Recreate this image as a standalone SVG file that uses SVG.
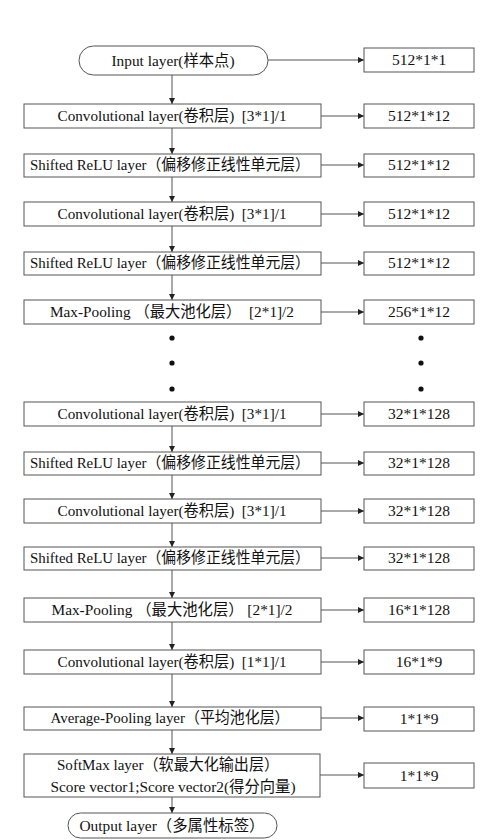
<svg xmlns="http://www.w3.org/2000/svg" width="502" height="840" viewBox="0 0 502 840">
<defs>
<marker id="ah" markerWidth="7" markerHeight="6" refX="6" refY="3" orient="auto" markerUnits="userSpaceOnUse">
<path d="M0,0 L6,3 L0,6 z" fill="#222"/>
</marker>
<style>
.box{fill:#fff;stroke:#555;stroke-width:1}
.t{font-family:"Liberation Serif","Noto Sans CJK SC",serif;font-size:15.5px;fill:#111;text-anchor:middle}
.c{stroke:#555;stroke-width:1;fill:none;marker-end:url(#ah)}
.dot{fill:#111}
</style>
</defs>
<rect width="502" height="840" fill="#fff"/>

<g id="connectors">
<line class="c" x1="172" y1="75" x2="172" y2="104"/>
<line class="c" x1="172" y1="128" x2="172" y2="154"/>
<line class="c" x1="172" y1="177" x2="172" y2="202"/>
<line class="c" x1="172" y1="226" x2="172" y2="252"/>
<line class="c" x1="172" y1="275" x2="172" y2="300"/>
<line class="c" x1="172" y1="426" x2="172" y2="452"/>
<line class="c" x1="172" y1="475" x2="172" y2="499"/>
<line class="c" x1="172" y1="523" x2="172" y2="547"/>
<line class="c" x1="172" y1="570" x2="172" y2="598"/>
<line class="c" x1="172" y1="622" x2="172" y2="650"/>
<line class="c" x1="172" y1="674" x2="172" y2="707"/>
<line class="c" x1="172" y1="730" x2="172" y2="754"/>
<line class="c" x1="172" y1="797" x2="172" y2="813"/>

<line class="c" x1="268" y1="60" x2="364" y2="60"/>
<line class="c" x1="321" y1="116" x2="364" y2="116"/>
<line class="c" x1="321" y1="165" x2="364" y2="165"/>
<line class="c" x1="321" y1="214" x2="364" y2="214"/>
<line class="c" x1="321" y1="263" x2="364" y2="263"/>
<line class="c" x1="321" y1="312" x2="364" y2="312"/>
<line class="c" x1="321" y1="414" x2="364" y2="414"/>
<line class="c" x1="321" y1="463" x2="364" y2="463"/>
<line class="c" x1="321" y1="511" x2="364" y2="511"/>
<line class="c" x1="321" y1="558" x2="364" y2="558"/>
<line class="c" x1="321" y1="610" x2="364" y2="610"/>
<line class="c" x1="321" y1="662" x2="364" y2="662"/>
<line class="c" x1="321" y1="718" x2="364" y2="718"/>
<line class="c" x1="320" y1="775" x2="364" y2="775"/>
</g>

<g id="input">
<rect class="box" x="79" y="46" width="189" height="29" rx="14.5"/>
<text class="t" x="173" y="66" textLength="123" lengthAdjust="spacingAndGlyphs">Input layer(样本点)</text>
</g>
<g id="conv1">
<rect class="box" x="24" y="104" width="297" height="24"/>
<text class="t" x="172" y="121" xml:space="preserve" textLength="229" lengthAdjust="spacingAndGlyphs">Convolutional layer(卷积层)  [3*1]/1</text>
</g>
<g id="relu1">
<rect class="box" x="24" y="154" width="297" height="23"/>
<text class="t" x="170" y="170" textLength="280" lengthAdjust="spacingAndGlyphs">Shifted ReLU layer（偏移修正线性单元层）</text>
</g>
<g id="conv2">
<rect class="box" x="24" y="202" width="297" height="24"/>
<text class="t" x="172" y="219" xml:space="preserve" textLength="229" lengthAdjust="spacingAndGlyphs">Convolutional layer(卷积层)  [3*1]/1</text>
</g>
<g id="relu2">
<rect class="box" x="24" y="252" width="297" height="23"/>
<text class="t" x="170" y="268" textLength="280" lengthAdjust="spacingAndGlyphs">Shifted ReLU layer（偏移修正线性单元层）</text>
</g>
<g id="maxpool1">
<rect class="box" x="24" y="300" width="297" height="24"/>
<text class="t" x="172" y="317" xml:space="preserve" textLength="244" lengthAdjust="spacingAndGlyphs">Max-Pooling （最大池化层）  [2*1]/2</text>
</g>
<g id="dots">
<circle class="dot" cx="172" cy="338" r="2.6"/>
<circle class="dot" cx="172" cy="363" r="2.6"/>
<circle class="dot" cx="172" cy="389" r="2.6"/>
<circle class="dot" cx="421" cy="338" r="2.6"/>
<circle class="dot" cx="421" cy="363" r="2.6"/>
<circle class="dot" cx="421" cy="389" r="2.6"/>
</g>
<g id="conv3">
<rect class="box" x="24" y="402" width="297" height="24"/>
<text class="t" x="172" y="419" xml:space="preserve" textLength="229" lengthAdjust="spacingAndGlyphs">Convolutional layer(卷积层)  [3*1]/1</text>
</g>
<g id="relu3">
<rect class="box" x="24" y="452" width="297" height="23"/>
<text class="t" x="170" y="468" textLength="280" lengthAdjust="spacingAndGlyphs">Shifted ReLU layer（偏移修正线性单元层）</text>
</g>
<g id="conv4">
<rect class="box" x="24" y="499" width="297" height="24"/>
<text class="t" x="172" y="516" xml:space="preserve" textLength="229" lengthAdjust="spacingAndGlyphs">Convolutional layer(卷积层)  [3*1]/1</text>
</g>
<g id="relu4">
<rect class="box" x="24" y="547" width="297" height="23"/>
<text class="t" x="170" y="563" textLength="280" lengthAdjust="spacingAndGlyphs">Shifted ReLU layer（偏移修正线性单元层）</text>
</g>
<g id="maxpool2">
<rect class="box" x="24" y="598" width="297" height="24"/>
<text class="t" x="172" y="615" xml:space="preserve" textLength="241" lengthAdjust="spacingAndGlyphs">Max-Pooling （最大池化层） [2*1]/2</text>
</g>
<g id="conv5">
<rect class="box" x="24" y="650" width="297" height="24"/>
<text class="t" x="172" y="667" xml:space="preserve" textLength="229" lengthAdjust="spacingAndGlyphs">Convolutional layer(卷积层)  [1*1]/1</text>
</g>
<g id="avgpool">
<rect class="box" x="24" y="707" width="297" height="23"/>
<text class="t" x="170" y="723" textLength="239" lengthAdjust="spacingAndGlyphs">Average-Pooling layer（平均池化层）</text>
</g>
<g id="softmax">
<rect class="box" x="24" y="754" width="296" height="43"/>
<text class="t" x="168" y="770" textLength="222" lengthAdjust="spacingAndGlyphs">SoftMax layer（软最大化输出层）</text>
<text class="t" x="173" y="792" textLength="245" lengthAdjust="spacingAndGlyphs">Score vector1;Score vector2(得分向量)</text>
</g>
<g id="output">
<rect class="box" x="68" y="813" width="209" height="25" rx="12.5"/>
<text class="t" x="172" y="831" textLength="185" lengthAdjust="spacingAndGlyphs">Output layer（多属性标签）</text>
</g>

<g id="dim-input"><rect class="box" x="364" y="48" width="110" height="24"/><text class="t" x="419" y="65">512*1*1</text></g>
<g id="dim-conv1"><rect class="box" x="364" y="104" width="110" height="24"/><text class="t" x="419" y="121">512*1*12</text></g>
<g id="dim-relu1"><rect class="box" x="364" y="154" width="110" height="23"/><text class="t" x="419" y="170">512*1*12</text></g>
<g id="dim-conv2"><rect class="box" x="364" y="202" width="110" height="24"/><text class="t" x="419" y="219">512*1*12</text></g>
<g id="dim-relu2"><rect class="box" x="364" y="252" width="110" height="23"/><text class="t" x="419" y="268">512*1*12</text></g>
<g id="dim-maxpool1"><rect class="box" x="364" y="300" width="110" height="24"/><text class="t" x="419" y="317">256*1*12</text></g>
<g id="dim-conv3"><rect class="box" x="364" y="402" width="110" height="24"/><text class="t" x="419" y="419">32*1*128</text></g>
<g id="dim-relu3"><rect class="box" x="364" y="452" width="110" height="23"/><text class="t" x="419" y="468">32*1*128</text></g>
<g id="dim-conv4"><rect class="box" x="364" y="499" width="110" height="24"/><text class="t" x="419" y="516">32*1*128</text></g>
<g id="dim-relu4"><rect class="box" x="364" y="547" width="110" height="23"/><text class="t" x="419" y="563">32*1*128</text></g>
<g id="dim-maxpool2"><rect class="box" x="364" y="598" width="110" height="24"/><text class="t" x="419" y="615">16*1*128</text></g>
<g id="dim-conv5"><rect class="box" x="364" y="650" width="110" height="24"/><text class="t" x="419" y="667">16*1*9</text></g>
<g id="dim-avgpool"><rect class="box" x="364" y="707" width="110" height="24"/><text class="t" x="419" y="724">1*1*9</text></g>
<g id="dim-softmax"><rect class="box" x="364" y="763" width="110" height="25"/><text class="t" x="419" y="781">1*1*9</text></g>
</svg>
